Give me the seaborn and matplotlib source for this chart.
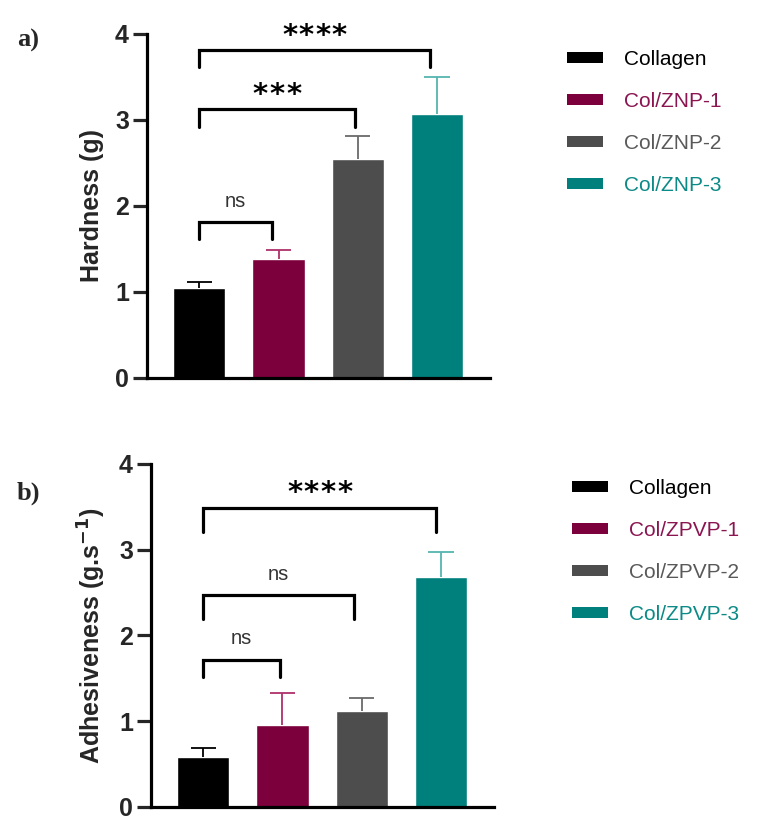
import numpy as np
import pandas as pd
import seaborn as sns
import matplotlib
matplotlib.use("Agg")
import matplotlib.pyplot as plt
from matplotlib.patches import Patch

# data
groups = ["Collagen", "Col/ZNP-1", "Col/ZNP-2", "Col/ZNP-3"]
groups_b = ["Collagen", "Col/ZPVP-1", "Col/ZPVP-2", "Col/ZPVP-3"]
hardness = [1.05, 1.38, 2.54, 3.07]
hardness_err = [0.06, 0.11, 0.27, 0.43]
adhesive = [0.58, 0.96, 1.12, 2.68]
adhesive_err = [0.11, 0.37, 0.15, 0.29]

# significance brackets: (x start, x end, y top, leg length, label, label y)
sig_a = [(0.0, 0.92, 1.81, 0.19, "ns", 2.05),
         (0.0, 1.96, 3.13, 0.21, "***", 3.29),
         (0.0, 2.91, 3.81, 0.20, "****", 3.97)]
sig_b = [(0.0, 0.97, 1.71, 0.19, "ns", 1.96),
         (0.0, 1.90, 2.47, 0.28, "ns", 2.71),
         (0.0, 2.94, 3.48, 0.27, "****", 3.66)]

bar_colors = ["#000000", "#7b003b", "#4d4d4d", "#00807c"]
err_colors = ["#000000", "#b0306a", "#6a6a6a", "#55b5b0"]
text_colors = ["#000000", "#8a1550", "#595959", "#0b8a86"]

sns.set_style("white")
plt.rcParams['font.family'] = ['Liberation Sans', 'DejaVu Sans']

fig = plt.figure(figsize=(7.64, 8.27), dpi=100)
ax_a = fig.add_axes([0.1924, 0.543, 0.449, 0.416])
ax_b = fig.add_axes([0.1976, 0.0242, 0.449, 0.415])


def draw_panel(ax, names, vals, errs, sigs, ylabel):
    df = pd.DataFrame({"group": names, "value": vals})
    sns.barplot(data=df, x="group", y="value", hue="group", palette=bar_colors,
                order=names, hue_order=names, width=0.66, saturation=1,
                errorbar=None, legend=False, ax=ax)
    # upper-only error bars
    for i in range(len(vals)):
        ax.vlines(i, vals[i], vals[i] + errs[i], color=err_colors[i], lw=1.3,
                  zorder=1)
        ax.hlines(vals[i] + errs[i], i - 0.16, i + 0.16, color=err_colors[i],
                  lw=1.3, zorder=1)
    for x1, x2, y, leg, lab, ly in sigs:
        ax.plot([x1, x1, x2, x2], [y - leg, y, y, y - leg], color="black",
                lw=2.3, clip_on=False, solid_joinstyle="miter")
        xm = (x1 + x2) / 2
        if lab == "ns":
            ax.text(xm, ly, lab, ha="center", va="center", fontsize=14.5,
                    color="#333333")
        else:
            n = len(lab)
            for k in range(n):
                ax.text(xm + (k - (n - 1) / 2) * 0.21, ly, "*", ha="center",
                        va="center", fontsize=21, fontweight="bold",
                        family="DejaVu Sans", color="black", clip_on=False)
    ax.set_xlim(-0.66, 3.67)
    ax.set_ylim(0, 4)
    ax.set_yticks([0, 1, 2, 3, 4])
    ax.set_xticks([])
    ax.set_xlabel("")
    ax.set_ylabel(ylabel, fontsize=18, fontweight="bold", labelpad=8)
    for s in ["top", "right"]:
        ax.spines[s].set_visible(False)
    for s in ["left", "bottom"]:
        ax.spines[s].set_linewidth(2.3)
        ax.spines[s].set_color("black")
    ax.tick_params(axis="y", length=10, width=2.3, labelsize=18, pad=3,
                   left=True)
    for t in ax.get_yticklabels():
        t.set_fontweight("bold")
    handles = [Patch(facecolor=c, edgecolor="none") for c in bar_colors]
    return handles


h_a = draw_panel(ax_a, groups, hardness, hardness_err, sig_a, "Hardness (g)")
h_b = draw_panel(ax_b, groups_b, adhesive, adhesive_err, sig_b,
                 "Adhesiveness (g.s$^{\\mathbf{-1}}$)")

leg_kw = dict(loc="upper left", frameon=False, fontsize=15, handlelength=1.75,
              handleheight=0.43, handletextpad=1.0, labelspacing=1.1,
              borderpad=0, borderaxespad=0, labelcolor=text_colors)
fig.legend(h_a, groups, bbox_to_anchor=(567 / 764, 1 - 50 / 827), **leg_kw)
fig.legend(h_b, groups_b, bbox_to_anchor=(572 / 764, 1 - 479 / 827), **leg_kw)

fig.text(17 / 764, 1 - 40 / 827, "a)", fontsize=19, fontweight="bold",
         family="Liberation Serif", va="center", ha="left")
fig.text(17 / 764, 1 - 493 / 827, "b)", fontsize=19, fontweight="bold",
         family="Liberation Serif", va="center", ha="left")

fig.savefig("out.png", dpi=100)
